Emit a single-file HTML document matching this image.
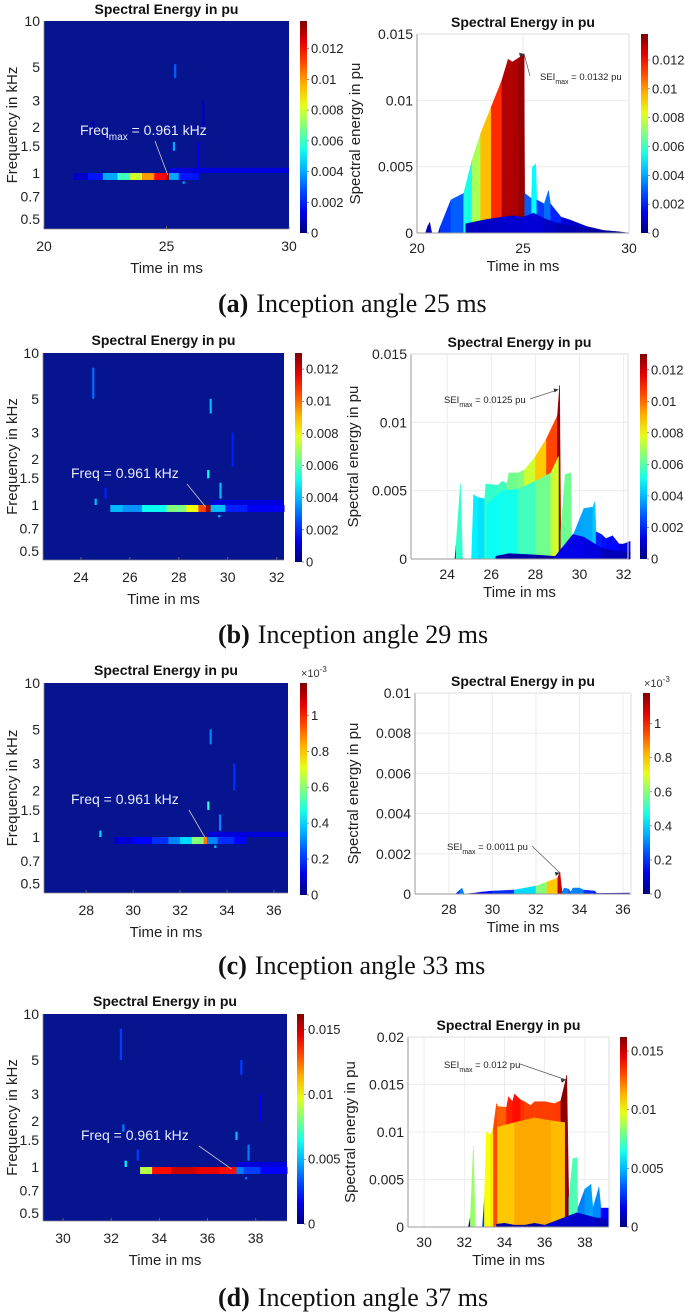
<!DOCTYPE html>
<html><head><meta charset="utf-8">
<style>
html,body{margin:0;padding:0;background:#fff;}
svg{display:block;font-family:"Liberation Sans",Arial,sans-serif;}
.cap{font-family:"Liberation Serif","Times New Roman",serif;font-size:26px;fill:#111;}
</style></head>
<body>
<svg id="fig" width="685" height="1313" viewBox="0 0 685 1313" xmlns="http://www.w3.org/2000/svg"></svg>
<script>
// ---------- DATA ----------
// Panel (a)
const timeA=[20.4,20.5,20.6,20.7,21.0,21.1,21.6,22.2,22.6,23.0,23.5,24.0,24.3,24.5,24.8,25.05,25.08,25.4,25.45,25.6,25.65,26.0,26.2,26.3,26.8,27.2,28.0,28.8,29.5,30.0];
const energyA=[0,0.0005,0.0008,0,0,0.0005,0.0025,0.003,0.0055,0.0075,0.0095,0.0115,0.0131,0.0129,0.0132,0.0135,0.003,0.0026,0.005,0.0052,0.0025,0.0022,0.0032,0.0022,0.0012,0.001,0.0005,0.0002,0.0001,0];
const lowTimeA=[22.3,23.2,24.0,24.5,25.0,25.5,26.0,26.5,27.0,28.0,29.0,29.6];
const lowEnergyA=[0.0007,0.001,0.0012,0.0013,0.0012,0.0015,0.0011,0.0008,0.0006,0.0003,0.0001,0];
const streakTimeA=[21.2,21.8,22.4,23.0,23.5,24.0,24.5,25.0,25.1,25.5,26.3];
const streakValA=[0.001,0.002,0.004,0.006,0.008,0.01,0.012,0.0135,0.004,0.002,0.0012];
const spikesA=[[25.35,4.2,5.2,0.003],[25.3,1.4,1.6,0.004],[25.7,0.85,0.88,0.004],[26.3,1.0,1.6,0.0015],[26.5,2,3,0.0008],[22.0,1.8,2.2,0.0008]];
// Panel (b)
const timeB=[22.36,24.35,24.4,24.6,24.7,25.1,25.2,25.4,25.7,25.75,26.3,26.5,26.7,26.8,27.2,27.5,28.0,28.5,29.0,29.1,29.15,29.35,29.6,29.65,30.2,30.6,30.7,30.75,31.0,31.2,31.5,31.8,32.0,32.3];
const energyB=[0,0,0.001,0.0055,0,0,0.0047,0.0045,0.0044,0.0055,0.0054,0.0057,0.0055,0.0063,0.0063,0.0065,0.0075,0.0088,0.0105,0.0127,0.002,0.0062,0.0063,0.0015,0.0037,0.0038,0.0042,0.002,0.0018,0.0015,0.0017,0.0011,0.0011,0.0013];
const midTimeB=[25.8,26.5,27.2,28.0,28.7,29.05];
const midEnergyB=[0.004,0.005,0.0051,0.0057,0.0063,0.0075];
const lowTimeB=[26.2,26.8,28.0,28.9,29.7,30.2,31.0,32.0,32.3];
const lowEnergyB=[0.0002,0.0004,0.0003,0.0002,0.0018,0.0016,0.0008,0.0005,0.0005];
const streakTimeB=[25.2,25.7,26.5,27.5,28.3,28.8,29.1,29.3,29.9,30.8,32.3];
const streakValB=[0.004,0.0035,0.005,0.0065,0.008,0.0105,0.0125,0.004,0.002,0.0015,0.0012];
const spikesB=[[24.5,5,8,0.003],[24.6,1.0,1.1,0.004],[29.3,4,5,0.004],[29.2,1.5,1.7,0.005],[29.7,1.1,1.4,0.004],[29.65,0.83,0.86,0.004],[30.2,1.8,3,0.002],[25,1.1,1.3,0.002]];
// Panel (c)
const timeC=[26.44,28.3,28.5,28.6,28.7,29.2,29.5,30.0,31.0,32.0,32.5,33.0,33.1,33.2,33.3,33.5,33.6,33.7,34.0,34.2,34.7,34.8,36.3];
const energyC=[0,0,0.0002,0.0003,0,0.00005,0.0001,0.00015,0.0002,0.0004,0.0006,0.0008,0.0011,0.0001,0.0003,0.00025,0.0001,0.0003,0.0003,0.0002,0.00015,0.00003,0.00005];
const streakTimeC=[29.2,30.0,30.8,31.5,32.0,32.5,33.0,33.15,33.6,34.3,34.8];
const streakValC=[0.0001,0.00015,0.0002,0.0003,0.0004,0.0006,0.0009,0.0003,0.0002,0.00015,0.0001];
const spikesC=[[33.2,1.5,1.7,0.0005],[33.3,4,5,0.0003],[33.7,1.1,1.4,0.0003],[33.5,0.85,0.88,0.0004],[28.6,1.0,1.1,0.0004],[34.3,2,3,0.0002]];
// Panel (d)
const timeD=[29.2,32.2,32.3,32.45,32.55,32.9,33.0,33.1,33.3,33.45,33.6,33.65,34.1,34.2,34.4,34.5,34.8,35.0,35.3,35.5,36.0,36.5,36.8,37.1,37.2,37.4,37.6,37.65,38.0,38.3,38.4,38.7,38.8,39.2];
const energyD=[0,0,0.001,0.0085,0,0,0.003,0.01,0.0097,0.0105,0.013,0.0127,0.0126,0.0137,0.0132,0.014,0.0134,0.0132,0.0128,0.0132,0.0132,0.013,0.0133,0.016,0.003,0.0072,0.0073,0.002,0.004,0.0045,0.002,0.0042,0.002,0.002];
const midTimeD=[33.65,34.5,35.5,36.3,37.0];
const midEnergyD=[0.0105,0.011,0.0115,0.0112,0.011];
const lowTimeD=[33.6,34.0,34.5,35.0,35.5,36.0,37.6,38.5,39.2];
const lowEnergyD=[0.0003,0.0004,0.0002,0.0002,0.0004,0.0002,0.0015,0.001,0.0008];
const streakTimeD=[33.2,33.7,34.5,35.5,36.5,37.2,37.5,38.2,39.3];
const streakValD=[0.009,0.014,0.015,0.0145,0.014,0.004,0.003,0.002,0.0015];
const spikesD=[[32.5,1.7,1.9,0.004],[32.6,1.0,1.1,0.006],[32.4,5,8,0.003],[33.1,1.1,1.3,0.003],[37.2,1.5,1.7,0.005],[37.4,4,5,0.003],[37.7,1.1,1.4,0.004],[37.6,0.83,0.86,0.004],[38.2,2,3,0.002]];

// ---------- HELPERS ----------
const NS="http://www.w3.org/2000/svg";
const svg=document.getElementById('fig');
function el(tag,attrs,parent,txt){const e=document.createElementNS(NS,tag);for(const k in attrs)e.setAttribute(k,attrs[k]);if(txt!==undefined)e.textContent=txt;(parent||svg).appendChild(e);return e;}
function jet(v){v=Math.max(0,Math.min(1,v));const c=x=>Math.round(255*Math.max(0,Math.min(1,x)));
 return `rgb(${c(1.5-Math.abs(4*v-3))},${c(1.5-Math.abs(4*v-2))},${c(1.5-Math.abs(4*v-1))})`;}
let defsN=0;
function colorbar(g,x,y0,y1,w,max,ticks,labels,exp){
 const id='cb'+(defsN++);const defs=el('defs',{},g);const lg=el('linearGradient',{id:id,x1:0,y1:1,x2:0,y2:0},defs);
 for(let i=0;i<=10;i++)el('stop',{offset:i/10,'stop-color':jet(i/10)},lg);
 const r=el('rect',{x:x,y:y0,width:w,height:y1-y0,fill:`url(#${id})`},g);
 
 ticks.forEach((t,i)=>{const yy=y1-(t/max)*(y1-y0);
  el('line',{x1:x+w,x2:x+w+2,y1:yy,y2:yy,stroke:'#444','stroke-width':0.6},g);
  const tx=el('text',{x:x+w+4,y:yy+4.5,'font-size':13,fill:'#222'},g,labels[i]);
  });
 if(exp){const e=el('text',{x:x+1,y:y0-6,'font-size':11,fill:'#333'},g,'×10');
  
  el('tspan',{dy:-5,'font-size':8},e,'-3');}
}
function heatmap(o){
 const g=el('g',{});
 const X=t=>o.x0+(t-o.tmin)/(o.tmax-o.tmin)*(o.x1-o.x0);
 const Y=f=>o.y0+(1-Math.log10(f))*o.dec;
 el('rect',{x:o.x0,y:o.y0,width:o.x1-o.x0,height:o.y1-o.y0,fill:'#06148f'},g);
 el('rect',{x:X(o.bandT),y:Y(1.08),width:o.x1-X(o.bandT),height:Y(1.0)-Y(1.08),fill:jet(0.09)},g);
 o.spikes.forEach(s=>{const r=el('rect',{x:X(s[0])-1,y:Y(s[2]),width:2.2,height:Y(s[1])-Y(s[2]),fill:jet(s[3]/o.cmax)},g);
  });
 for(let i=0;i<o.st.length-1;i++){
  const r=el('rect',{x:X(o.st[i]),y:Y(1.0),width:X(o.st[i+1])-X(o.st[i])+0.5,height:Y(0.9)-Y(1.0),fill:jet(o.sv[i]/o.cmax)},g);
  }
 el('line',{x1:o.x0,x2:o.x1,y1:o.y1,y2:o.y1,stroke:'#888','stroke-width':0.8},g);
 el('line',{x1:o.x0,x2:o.x0,y1:o.y0,y2:o.y1,stroke:'#888','stroke-width':0.8},g);
 [10,5,3,2,1.5,1,0.7,0.5].forEach(f=>{const tx=el('text',{x:o.x0-4,y:Y(f)+5,'text-anchor':'end','font-size':14,fill:'#222'},g,String(f));
  });
 o.xt.forEach(t=>{el('line',{x1:X(t),x2:X(t),y1:o.y1,y2:o.y1-3,stroke:'#666'},g);
  const tx=el('text',{x:X(t),y:o.y1+22,'text-anchor':'middle','font-size':14,fill:'#222'},g,String(t));
  });
 const ti=el('text',{x:(o.x0+o.x1)/2,y:o.y0-(o.titleOff||8),'text-anchor':'middle','font-size':14,'font-weight':'bold',fill:'#111'},g,'Spectral Energy in pu');
 
 const xl=el('text',{x:(o.x0+o.x1)/2,y:o.y1+44,'text-anchor':'middle','font-size':15,fill:'#222'},g,'Time in ms');
 
 const yc=(o.y0+o.y1)/2;
 const yl=el('text',{x:17,y:yc,'text-anchor':'middle','font-size':15,fill:'#222',transform:`rotate(-90 17 ${yc})`},g,'Frequency in kHz');
 
 const tipX=X(o.peakT),tipY=Y(0.97);
 el('line',{x1:o.annX+o.annLx,y1:o.annY+6,x2:tipX,y2:tipY,stroke:'#ccc','stroke-width':0.8},g);
 const an=el('text',{x:o.annX,y:o.annY,'font-size':14,fill:'#e8ecff'},g,'Freq');
 
 if(o.sub){el('tspan',{dy:5,'font-size':10},an,'max');el('tspan',{dy:-5},an,' = 0.961 kHz');}
 else el('tspan',{},an,' = 0.961 kHz');
 colorbar(g,o.cbx,o.y0,o.cby1,7,o.cmax,o.cbt,o.cbl,o.exp);
}
function surface(o){
 const g=el('g',{});
 const X=t=>o.x0+(t-o.tmin)/(o.tmax-o.tmin)*(o.x1-o.x0);
 const Y=v=>o.y1-(v/o.vmax)*(o.y1-o.y0);
 el('rect',{x:o.x0,y:o.y0,width:o.x1-o.x0,height:o.y1-o.y0,fill:'#fff'},g);
 o.yt.forEach(v=>{el('line',{x1:o.x0,x2:o.x1,y1:Y(v),y2:Y(v),stroke:'#ececec'},g);
  const tx=el('text',{x:o.x0-4,y:Y(v)+5,'text-anchor':'end','font-size':14,fill:'#222'},g,String(v));
  });
 o.xt.forEach(t=>{el('line',{x1:X(t),x2:X(t),y1:o.y0,y2:o.y1,stroke:'#ececec'},g);
  const tx=el('text',{x:X(t),y:o.y1+20,'text-anchor':'middle','font-size':14,fill:'#222'},g,String(t));
  });
 function layer(ts,vs,nm,dark){
  for(let i=0;i<ts.length-1;i++){
   const v=Math.max(vs[i],vs[i+1]);
   const c=dark?jet(0.02+v/o.cmax*0.6):jet(v/o.cmax);
   const p=el('polygon',{points:`${X(ts[i])},${Y(0)} ${X(ts[i])},${Y(vs[i])} ${X(ts[i+1])},${Y(vs[i+1])} ${X(ts[i+1])},${Y(0)}`,fill:c,stroke:c,'stroke-width':0.4},g);
   }
 }
 layer(o.t,o.v,'energy-strip',false);
 if(o.mt)layer(o.mt,o.mv,'mid-energy-strip',false);
 if(o.lt)layer(o.lt,o.lv,'low-energy-strip',true);
 el('line',{x1:o.x0,x2:o.x1,y1:o.y1,y2:o.y1,stroke:'#999'},g);
 el('line',{x1:o.x0,x2:o.x0,y1:o.y0,y2:o.y1,stroke:'#999'},g);
 el('line',{x1:o.x1,x2:o.x1,y1:o.y0,y2:o.y1,stroke:'#ddd'},g);
 el('line',{x1:o.x0,x2:o.x1,y1:o.y0,y2:o.y0,stroke:'#ddd'},g);
 const ti=el('text',{x:(o.x0+o.x1)/2,y:o.y0-7,'text-anchor':'middle','font-size':14,'font-weight':'bold',fill:'#111'},g,'Spectral Energy in pu');
 
 const xl=el('text',{x:(o.x0+o.x1)/2,y:o.y1+38,'text-anchor':'middle','font-size':15,fill:'#222'},g,'Time in ms');
 
 const yc=(o.y0+o.y1)/2,yx=o.yx;
 const yl=el('text',{x:yx,y:yc,'text-anchor':'middle','font-size':15,fill:'#222',transform:`rotate(-90 ${yx} ${yc})`},g,'Spectral energy in pu');
 
 const px=X(o.peakT),py=Y(o.peakV);
 el('line',{x1:o.annX+o.annW,y1:o.annY-4,x2:px,y2:py,stroke:'#555','stroke-width':0.7},g);
 el('polygon',{points:`${px},${py} ${px-5},${py-1} ${px-4},${py+3}`,fill:'#333'},g);
 const an=el('text',{x:o.annX,y:o.annY,'font-size':9.5,fill:'#222'},g,'SEI');
 
 el('tspan',{dy:4,'font-size':7},an,'max');el('tspan',{dy:-4},an,' = '+o.annTxt);
 colorbar(g,o.cbx,o.y0,o.y1,7,o.cmax,o.cbt,o.cbl,o.exp);
}
function caption(y,letter,ang){
 const t=el('text',{x:218,y:y,class:'cap'},svg);
 
 el('tspan',{'font-weight':'bold'},t,'('+letter+')');
 el('tspan',{dx:8},t,'Inception angle '+ang+' ms');
}
// ---------- PANELS ----------
heatmap({name:'a',x0:44,x1:289,y0:21,y1:229,tmin:20,tmax:30,dec:152,xt:[20,25,30],st:streakTimeA,sv:streakValA,spikes:spikesA,cmax:0.0138,bandT:25.1,titleOff:7,
 peakT:25.05,annX:80,annY:135,annLx:75,sub:true,cbx:300,cby1:233,cbt:[0,0.002,0.004,0.006,0.008,0.01,0.012],cbl:['0','0.002','0.004','0.006','0.008','0.01','0.012']});
surface({name:'a',x0:417,x1:629,y0:34,y1:233,tmin:20,tmax:30,vmax:0.015,yt:[0,0.005,0.01,0.015],xt:[20,25,30],t:timeA,v:energyA,lt:lowTimeA,lv:lowEnergyA,cmax:0.0138,
 yx:360,peakT:25.05,peakV:0.0135,annX:540,annY:80,annW:-10,annTxt:'0.0132 pu',cbx:641,cbt:[0,0.002,0.004,0.006,0.008,0.01,0.012],cbl:['0','0.002','0.004','0.006','0.008','0.01','0.012']});
caption(312,'a',25);

heatmap({name:'b',x0:43,x1:284,y0:353,y1:560,tmin:22.45,tmax:32.3,dec:152,xt:[24,26,28,30,32],st:streakTimeB,sv:streakValB,spikes:spikesB,cmax:0.013,bandT:29.3,
 peakT:29.1,annX:71,annY:478,annLx:116,sub:false,cbx:295,cby1:562,cbt:[0,0.002,0.004,0.006,0.008,0.01,0.012],cbl:['0','0.002','0.004','0.006','0.008','0.01','0.012']});
surface({name:'b',x0:411,x1:628,y0:354,y1:559,tmin:22.36,tmax:32.2,vmax:0.015,yt:[0,0.005,0.01,0.015],xt:[24,26,28,30,32],t:timeB,v:energyB,mt:midTimeB,mv:midEnergyB,lt:lowTimeB,lv:lowEnergyB,cmax:0.013,
 yx:358,peakT:29.05,peakV:0.0124,annX:444,annY:403,annW:86,annTxt:'0.0125 pu',cbx:640,cbt:[0,0.002,0.004,0.006,0.008,0.01,0.012],cbl:['0','0.002','0.004','0.006','0.008','0.01','0.012']});
caption(643,'b',29);

heatmap({name:'c',x0:44,x1:288,y0:683,y1:893,tmin:26.2,tmax:36.6,dec:154,xt:[28,30,32,34,36],st:streakTimeC,sv:streakValC,spikes:spikesC,cmax:0.00118,bandT:33.2,
 peakT:33.1,annX:71,annY:804,annLx:118,sub:false,cbx:300,cby1:895,cbt:[0,0.0002,0.0004,0.0006,0.0008,0.001],cbl:['0','0.2','0.4','0.6','0.8','1'],exp:true});
surface({name:'c',x0:415,x1:631,y0:693,y1:894,tmin:26.44,tmax:36.37,vmax:0.01,yt:[0,0.002,0.004,0.006,0.008,0.01],xt:[28,30,32,34,36],t:timeC,v:energyC,cmax:0.00118,
 yx:358,peakT:33.1,peakV:0.00105,annX:447,annY:850,annW:85,annTxt:'0.0011 pu',cbx:643,cbt:[0,0.0002,0.0004,0.0006,0.0008,0.001],cbl:['0','0.2','0.4','0.6','0.8','1'],exp:true});
caption(974,'c',33);

heatmap({name:'d',x0:43,x1:287,y0:1014,y1:1221,tmin:29.17,tmax:39.3,dec:153,xt:[30,32,34,36,38],st:streakTimeD,sv:streakValD,spikes:spikesD,cmax:0.0162,bandT:37.2,
 peakT:37.0,annX:81,annY:1140,annLx:118,sub:false,cbx:297,cby1:1224,cbt:[0,0.005,0.01,0.015],cbl:['0','0.005','0.01','0.015']});
surface({name:'d',x0:408,x1:609,y0:1037,y1:1227,tmin:29.2,tmax:39.2,vmax:0.02,yt:[0,0.005,0.01,0.015,0.02],xt:[30,32,34,36,38],t:timeD,v:energyD,mt:midTimeD,mv:midEnergyD,lt:lowTimeD,lv:lowEnergyD,cmax:0.0162,
 yx:355,peakT:37.05,peakV:0.0155,annX:444,annY:1068,annW:76,annTxt:'0.012 pu',cbx:620,cbt:[0,0.005,0.01,0.015],cbl:['0','0.005','0.01','0.015']});
caption(1306,'d',37);
</script>
</body></html>
